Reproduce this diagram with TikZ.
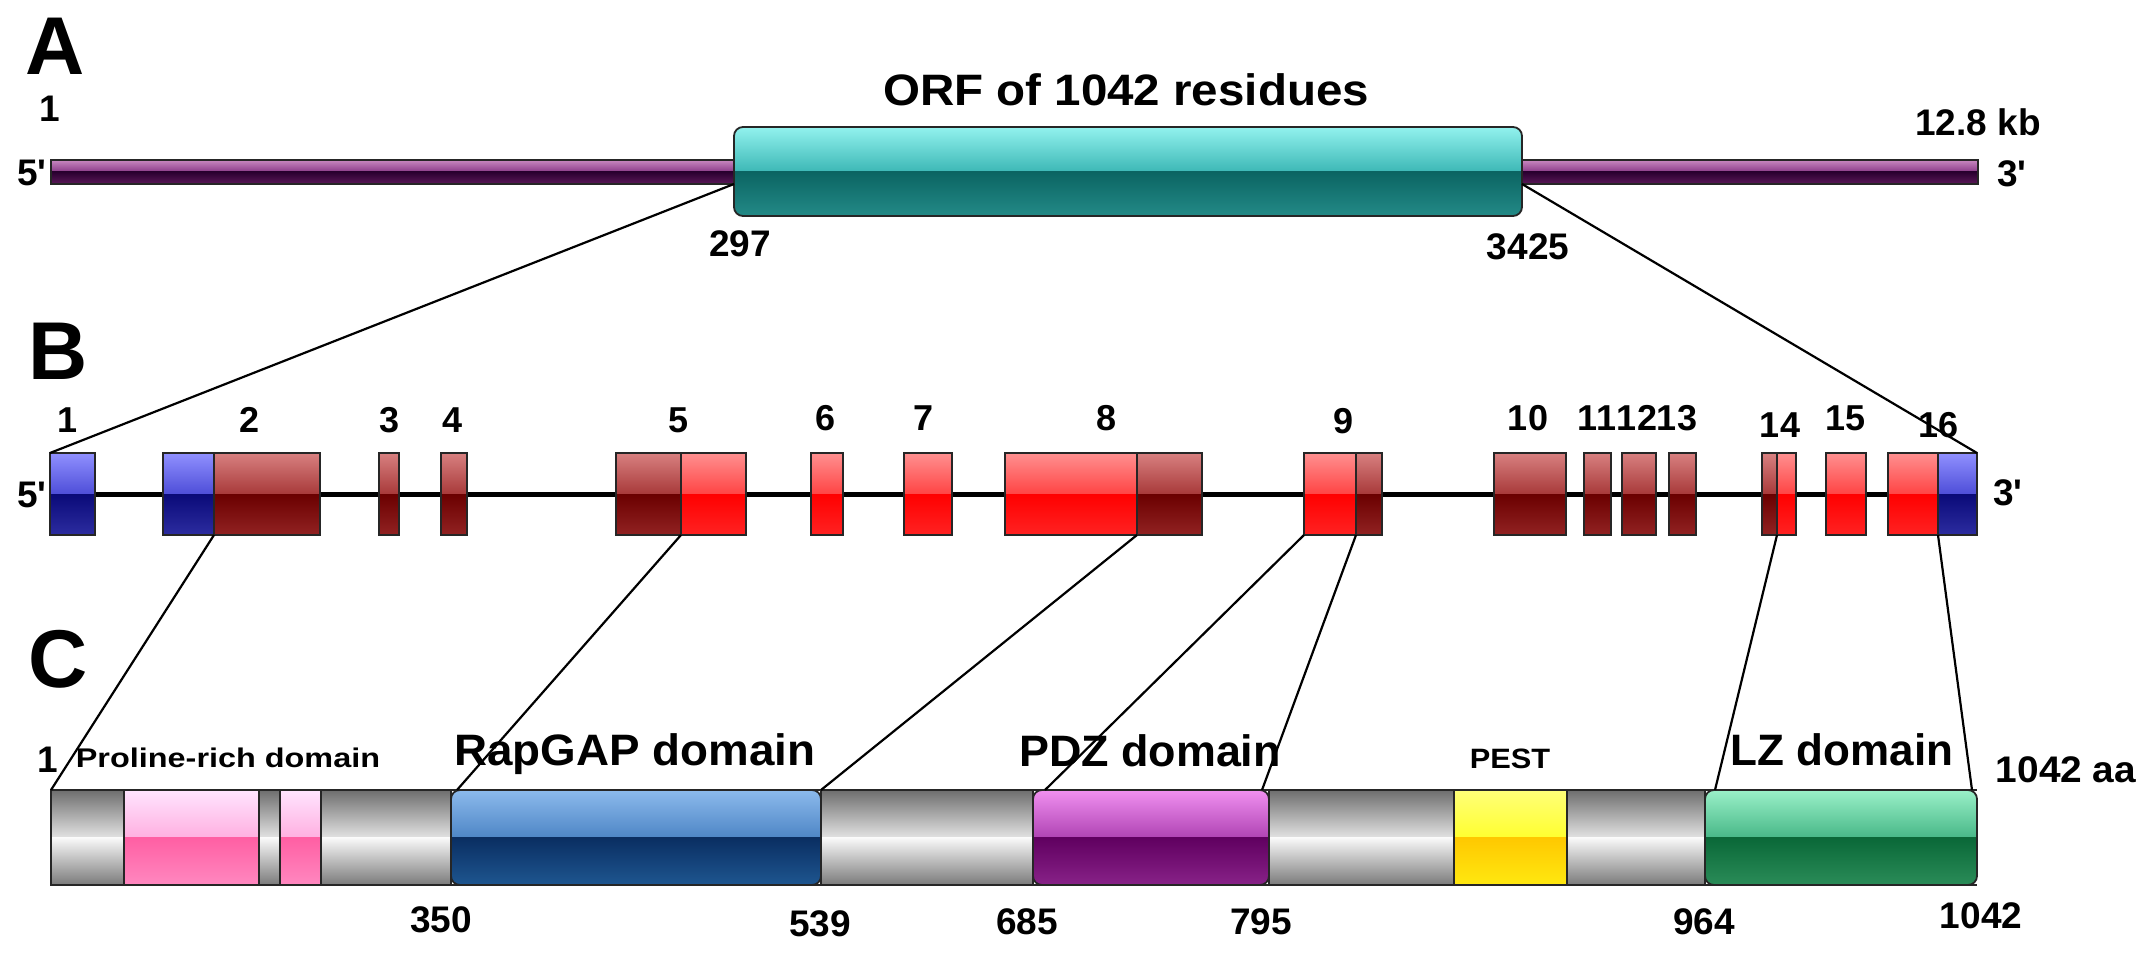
\documentclass[tikz,border=0pt]{standalone}
\usepackage{fontspec}
\setmainfont{Liberation Sans}
\usepackage{graphicx}
\usetikzlibrary{calc}

\definecolor{pb1}{HTML}{C888C0}\definecolor{pb2}{HTML}{8A3A88}\definecolor{pb3}{HTML}{2A0030}\definecolor{pb4}{HTML}{5A1858}
\definecolor{tl1}{HTML}{92F2EE}\definecolor{tl2}{HTML}{3DB8B6}\definecolor{tl3}{HTML}{0B6462}\definecolor{tl4}{HTML}{238A87}
\definecolor{bl1}{HTML}{9090FF}\definecolor{bl2}{HTML}{4E4ED8}\definecolor{bl3}{HTML}{0A0A78}\definecolor{bl4}{HTML}{2C2CA0}
\definecolor{dr1}{HTML}{D88080}\definecolor{dr2}{HTML}{A83A3A}\definecolor{dr3}{HTML}{6A0000}\definecolor{dr4}{HTML}{922222}
\definecolor{rr1}{HTML}{FF9090}\definecolor{rr2}{HTML}{FF4444}\definecolor{rr3}{HTML}{FF0000}\definecolor{rr4}{HTML}{FF2222}
\definecolor{pk1}{HTML}{FFE4FF}\definecolor{pk2}{HTML}{FFB0E0}\definecolor{pk3}{HTML}{FF5FA3}\definecolor{pk4}{HTML}{FF88C0}
\definecolor{rg1}{HTML}{8CBAEC}\definecolor{rg2}{HTML}{4E86C6}\definecolor{rg3}{HTML}{0A2E62}\definecolor{rg4}{HTML}{1E5690}
\definecolor{pz1}{HTML}{F090F0}\definecolor{pz2}{HTML}{B044B4}\definecolor{pz3}{HTML}{600060}\definecolor{pz4}{HTML}{882288}
\definecolor{yw1}{HTML}{FFFF78}\definecolor{yw2}{HTML}{FFFF30}\definecolor{yw3}{HTML}{FFC800}\definecolor{yw4}{HTML}{FFE810}
\definecolor{gn1}{HTML}{9AF0C8}\definecolor{gn2}{HTML}{48B888}\definecolor{gn3}{HTML}{0A6838}\definecolor{gn4}{HTML}{2A8C58}
\definecolor{gy1}{HTML}{6E6E6E}\definecolor{gy2}{HTML}{E2E2E2}\definecolor{gy3}{HTML}{FAFAFA}\definecolor{gy4}{HTML}{7A7A7A}

% #1 path options, #2..#5 x1 y1 x2 y2, #6..#9 colours
\newcommand{\glossrect}[9]{%
  \pgfmathsetmacro{\gym}{(#3+#5)/2}%
  \begin{scope}
    \clip[#1] (#2,#3) rectangle (#4,#5);
    \shade[top color=#6,bottom color=#7] (#2,#3) rectangle (#4,\gym);
    \shade[top color=#8,bottom color=#9] (#2,\gym) rectangle (#4,#5);
  \end{scope}
  \draw[outl,#1] (#2,#3) rectangle (#4,#5);
}
\newcommand{\exonB}[4]{\glossrect{sharp corners}{#1}{453}{#2}{535}{#31}{#32}{#33}{#34}}
\newcommand{\segC}[4]{\glossrect{#4}{#1}{790}{#2}{885}{#31}{#32}{#33}{#34}}

\begin{document}
\begin{tikzpicture}[x=1pt,y=-1pt,
  outl/.style={draw=black!85,line width=1.8pt},
  conn/.style={draw=black,line width=2.2pt},
  panel/.style={font=\bfseries\fontsize{82}{82}\selectfont,inner sep=0pt,anchor=base},
  num/.style={font=\bfseries\fontsize{37}{37}\selectfont,inner sep=0pt,anchor=base},
  exn/.style={font=\bfseries\fontsize{36}{36}\selectfont,inner sep=0pt,anchor=base},
  biglbl/.style={font=\bfseries\fontsize{44}{44}\selectfont,inner sep=0pt,anchor=base},
  smalllbl/.style={font=\bfseries\fontsize{27}{27}\selectfont,inner sep=0pt,anchor=base}]
\useasboundingbox (0,0) rectangle (2150,957);
\fill[white] (0,0) rectangle (2150,957);

% ---------------- Panel A ----------------
\glossrect{sharp corners}{51}{160}{1978}{184}{pb1}{pb2}{pb3}{pb4}
\glossrect{rounded corners=9pt}{734}{127}{1522}{216}{tl1}{tl2}{tl3}{tl4}
\coordinate (orfL) at (734,184);
\coordinate (orfR) at (1522,184);

\node[panel] (lA) at (55,75) {A};
\node[num] (a1) at (50,122) {1};
\node[biglbl] (orf) at (1126,106) {\scalebox{1.08}[1]{ORF of 1042 residues}};
\node[num] (akb) at (1978,136) {12.8 kb};
\node[num] (a5) at (32,186) {5\textquotesingle};
\node[num] (a3) at (2012,187) {3\textquotesingle};
\node[num] (a297) at (740,257) {297};
\node[num] (a3425) at (1528,260) {3425};

% ---------------- Panel B ----------------
\node[panel] (lB) at (58,380) {B};
\coordinate (bbL) at (50,494);
\coordinate (bbR) at (1977,494);
\draw[line width=5pt] (bbL) -- (bbR);

\exonB{50}{95}{bl}{}
\exonB{163}{214}{bl}{}
\exonB{214}{320}{dr}{}
\exonB{379}{399}{dr}{}
\exonB{441}{467}{dr}{}
\exonB{616}{681}{dr}{}
\exonB{681}{746}{rr}{}
\exonB{811}{843}{rr}{}
\exonB{904}{952}{rr}{}
\exonB{1005}{1137}{rr}{}
\exonB{1137}{1202}{dr}{}
\exonB{1304}{1356}{rr}{}
\exonB{1356}{1382}{dr}{}
\exonB{1494}{1566}{dr}{}
\exonB{1584}{1611}{dr}{}
\exonB{1622}{1656}{dr}{}
\exonB{1669}{1696}{dr}{}
\exonB{1762}{1777}{dr}{}
\exonB{1777}{1796}{rr}{}
\exonB{1826}{1866}{rr}{}
\exonB{1888}{1938}{rr}{}
\exonB{1938}{1977}{bl}{}

\coordinate (e1tl) at (50,453);
\coordinate (e16tr) at (1977,453);
\coordinate (e2b) at (214,535);
\coordinate (e5b) at (681,535);
\coordinate (e8b) at (1137,535);
\coordinate (e9a) at (1304,535);
\coordinate (e9b) at (1356,535);
\coordinate (e14b) at (1777,535);
\coordinate (e16b) at (1938,535);

\node[exn] (n1) at (68,432) {1};
\node[exn] (n2) at (250,432) {2};
\node[exn] (n3) at (390,432) {3};
\node[exn] (n4) at (453,432) {4};
\node[exn] (n5) at (679,432) {5};
\node[exn] (n6) at (826,430) {6};
\node[exn] (n7) at (924,430) {7};
\node[exn] (n8) at (1106,430) {8};
\node[exn] (n9) at (1343,434) {9};
\node[exn] (n10) at (1528,430) {10};
\node[exn] (n11) at (1597,430) {11};
\node[exn] (n12) at (1637,430) {12};
\node[exn] (n13) at (1677,430) {13};
\node[exn] (n14) at (1780,437) {14};
\node[exn] (n15) at (1845,430) {15};
\node[exn] (n16) at (1938,437) {16};
\node[num] (b5) at (32,507) {5\textquotesingle};
\node[num] (b3) at (2008,505) {3\textquotesingle};

% ---------------- Panel C ----------------
\node[panel] (lC) at (58,687) {C};
\segC{51}{124}{gy}{sharp corners}
\segC{124}{259}{pk}{sharp corners}
\segC{259}{280}{gy}{sharp corners}
\segC{280}{321}{pk}{sharp corners}
\segC{321}{451}{gy}{sharp corners}
\segC{821}{1033}{gy}{sharp corners}
\segC{1269}{1454}{gy}{sharp corners}
\segC{1454}{1567}{yw}{sharp corners}
\segC{1567}{1705}{gy}{sharp corners}
\segC{451}{821}{rg}{rounded corners=9pt}
\segC{1033}{1269}{pz}{rounded corners=9pt}
\segC{1705}{1977}{gn}{rounded corners=9pt}
\draw[outl] (51,790) -- (1977,790) (51,885) -- (1977,885);

\coordinate (c1) at (51,790);
\coordinate (c350) at (457,790);
\coordinate (c539) at (821,790);
\coordinate (c685) at (1045,790);
\coordinate (c795) at (1262,790);
\coordinate (c964) at (1715,790);
\coordinate (c1042) at (1972,790);

\node[num] (cc1) at (48,772) {1};
\node[smalllbl] (pro) at (228,767) {\scalebox{1.2}[1]{Proline-rich domain}};
\node[biglbl] (rap) at (635,765) {\scalebox{1.04}[1]{RapGAP domain}};
\node[biglbl] (pdz) at (1150,766) {\scalebox{1.02}[1]{PDZ domain}};
\node[smalllbl,font=\bfseries\fontsize{28}{28}\selectfont] (pest) at (1510,768) {\scalebox{1.1}[1]{PEST}};
\node[biglbl] (lz) at (1842,765) {LZ domain};
\node[num] (caa) at (2066,782) {\scalebox{1.05}[1]{1042 aa}};
\node[num] (c350t) at (441,932) {350};
\node[num] (c539t) at (820,936) {539};
\node[num] (c685t) at (1027,934) {685};
\node[num] (c795t) at (1261,934) {795};
\node[num] (c964t) at (1704,934) {964};
\node[num] (c1042t) at (1981,928) {1042};

% ---------------- Connectors ----------------
\draw[conn] (orfL) -- (e1tl);
\draw[conn] (orfR) -- (e16tr);
\draw[conn] (e2b) -- (c1);
\draw[conn] (e5b) -- (c350);
\draw[conn] (e8b) -- (c539);
\draw[conn] (e9a) -- (c685);
\draw[conn] (e9b) -- (c795);
\draw[conn] (e14b) -- (c964);
\draw[conn] (e16b) -- (c1042);
\end{tikzpicture}
\end{document}
